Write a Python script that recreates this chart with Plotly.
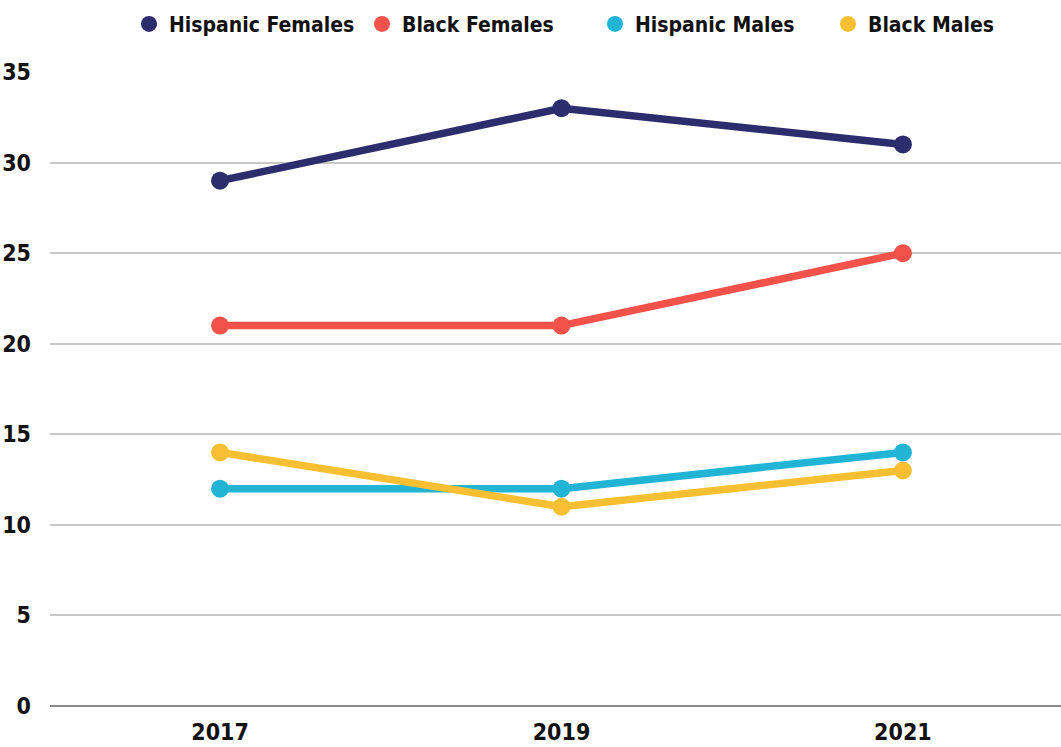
import plotly.graph_objects as go

years = ["2017", "2019", "2021"]
series_names = ["Hispanic Females", "Black Females", "Hispanic Males", "Black Males"]
hispanic_females = [29, 33, 31]
black_females = [21, 21, 25]
hispanic_males = [12, 12, 14]
black_males = [14, 11, 13]
colors = ["#2B2D6D", "#F2524A", "#22B4D5", "#F9BF32"]
y_ticks = [0, 5, 10, 15, 20, 25, 30, 35]

FONT = "DejaVu Sans Condensed, DejaVu Sans, sans-serif"

fig = go.Figure()

values = [hispanic_females, black_females, hispanic_males, black_males]
for name, vals, col in zip(series_names, values, colors):
    fig.add_trace(go.Scatter(
        x=years, y=vals, mode="lines+markers", name=name,
        line=dict(color=col, width=7.5),
        marker=dict(color=col, size=18),
        showlegend=False, hoverinfo="x+y+name",
    ))

# legend entries shown as plain circles
for name, col in zip(series_names, colors):
    fig.add_trace(go.Scatter(
        x=[None], y=[None], mode="markers", name=name,
        marker=dict(color=col, size=24),
        showlegend=True,
    ))

fig.update_layout(
    width=1061, height=747,
    margin=dict(l=50, r=0, t=72, b=41),
    paper_bgcolor="white", plot_bgcolor="white",
    font=dict(family=FONT, size=23, color="#111111"),
    legend=dict(
        orientation="h", x=0.554, xanchor="center", y=0.995, yanchor="top",
        yref="container", font=dict(family=FONT, size=21, color="#111111", weight="bold"),
        itemsizing="trace", itemwidth=30, traceorder="normal",
        entrywidth=188, entrywidthmode="pixels",
    ),
    showlegend=True,
)

fig.update_xaxes(
    type="category", range=[-0.498, 2.463],
    showgrid=False, zeroline=False, showline=False,
    ticks="", tickfont=dict(family=FONT, size=23, color="#111111", weight="bold"),
    ticklabelstandoff=10,
)
fig.update_yaxes(
    range=[0, 35], tickvals=y_ticks,
    showgrid=True, gridcolor="#C8C8C8", gridwidth=2,
    zeroline=True, zerolinecolor="#8A8A8A", zerolinewidth=2,
    showline=False, ticks="",
    tickfont=dict(family=FONT, size=23, color="#111111", weight="bold"),
    ticklabelstandoff=18,
)

fig.write_html("out.html")
